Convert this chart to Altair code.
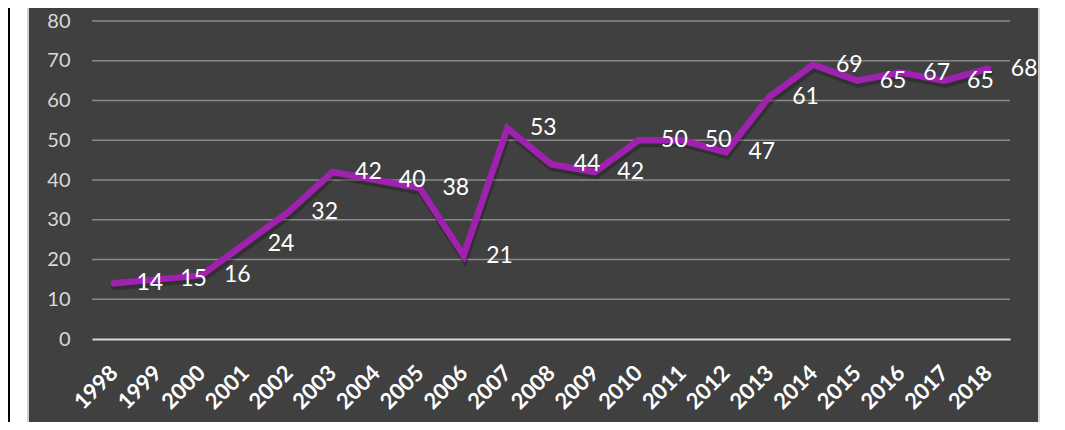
import altair as alt
import pandas as pd

years = [str(y) for y in range(1998, 2019)]
values = [14, 15, 16, 24, 32, 42, 40, 38, 21, 53, 44, 42, 50, 50, 47, 61, 69, 65, 67, 65, 68]
y_ticks = [10, 20, 30, 40, 50, 60, 70, 80]

data = pd.DataFrame({"year": years, "value": values})
grid_df = pd.DataFrame({"tick": y_ticks})
one = pd.DataFrame({"k": [0]})

W, H = 918, 318
TOP = 13

x_enc = alt.X("year:N", sort=years, title=None,
              axis=alt.Axis(labelAngle=-45, labelAlign="right", labelBaseline="middle",
                            labelFont="Lato", labelFontSize=22, labelFontWeight="bold",
                            labelColor="#ffffff", labelPadding=30, ticks=False,
                            labelOverlap=False,
                            domainColor="#d9d9d9", domainWidth=2, grid=False, zindex=1))
y_scale = alt.Scale(domain=[0, 80], nice=False)
y_axis = alt.Axis(values=[0] + y_ticks, labelFont="Lato", labelFontSize=20,
                  labelColor="#d9d9d9", labelPadding=22, ticks=False,
                  labelOverlap=False, labelFlush=False,
                  domain=False, grid=False, zindex=1)
y_enc = alt.Y("value:Q", scale=y_scale, title=None, axis=y_axis)

frame = alt.Chart(one).mark_rect(color="#d0d0d0").encode(
    x=alt.value(-65), x2=alt.value(948), y=alt.value(-TOP), y2=alt.value(414 - TOP))
panel = alt.Chart(one).mark_rect(color="#404040").encode(
    x=alt.value(-63), x2=alt.value(946), y=alt.value(-TOP), y2=alt.value(414 - TOP))
black = alt.Chart(one).mark_rect(color="#000000").encode(
    x=alt.value(-85), x2=alt.value(-82), y=alt.value(-TOP), y2=alt.value(414 - TOP))

grid = alt.Chart(grid_df).mark_rule(color="#8a8a8a", strokeWidth=1.5).encode(
    y=alt.Y("tick:Q", scale=y_scale, title=None, axis=y_axis),
    x=alt.value(0), x2=alt.value(W))

shadow = alt.Chart(data).mark_line(color="#000000", opacity=0.25, strokeWidth=8,
                                   yOffset=3, xOffset=1, strokeCap="round").encode(
    x=x_enc, y=y_enc)
line = alt.Chart(data).mark_line(color="#A021B0", strokeWidth=6.5, strokeCap="round").encode(
    x=x_enc, y=y_enc)
labels = alt.Chart(data).mark_text(font="Lato", fontSize=23, color="#ffffff",
                                   align="center", baseline="middle", dx=36).encode(
    x=x_enc, y=y_enc, text="value:Q")

chart = alt.layer(frame, panel, black, grid, shadow, line, labels).properties(
    width=W, height=H,
    autosize=alt.AutoSizeParams(type="none"),
    padding={"left": 84, "top": TOP, "right": 47, "bottom": 414 - TOP - H},
    background="#ffffff",
).configure_view(strokeWidth=0)

chart.save("out.html", embed_options={"renderer": "svg", "actions": False})
